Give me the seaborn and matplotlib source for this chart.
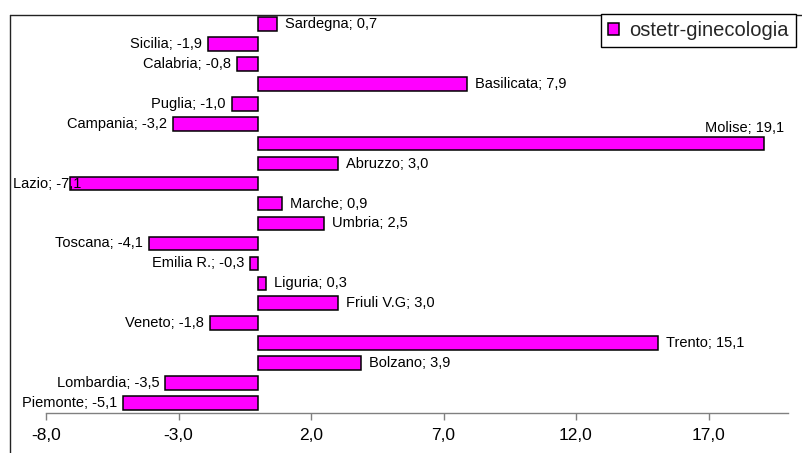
import matplotlib
matplotlib.use("Agg")
import matplotlib.pyplot as plt
from matplotlib.lines import Line2D
import seaborn as sns
import pandas as pd

# Regions listed top to bottom, with the percentage change for each
regions = ["Sardegna", "Sicilia", "Calabria", "Basilicata", "Puglia", "Campania",
           "Molise", "Abruzzo", "Lazio", "Marche", "Umbria", "Toscana",
           "Emilia R.", "Liguria", "Friuli V.G", "Veneto", "Trento", "Bolzano",
           "Lombardia", "Piemonte"]
values = [0.7, -1.9, -0.8, 7.9, -1.0, -3.2,
          19.1, 3.0, -7.1, 0.9, 2.5, -4.1,
          -0.3, 0.3, 3.0, -1.8, 15.1, 3.9,
          -3.5, -5.1]
series_name = "ostetr-ginecologia"
xticks = [-8, -3, 2, 7, 12, 17]

df = pd.DataFrame({"regione": regions, "valore": values})

sns.set_theme(style="white")
plt.rcParams["font.family"] = ["Liberation Sans", "DejaVu Sans"]

W, H = 802, 453
fig = plt.figure(figsize=(W / 100, H / 100), dpi=100)
ax = fig.add_axes([46 / W, 1 - 413 / H, (788 - 46) / W, (413 - 14) / H])

sns.barplot(data=df, x="valore", y="regione", orient="h", order=regions,
            color="#FF00FF", saturation=1, width=0.68, edgecolor="black",
            linewidth=1.1, label=series_name, ax=ax)

ax.set_xlim(-8, 20)
ax.set_ylim(len(regions) - 0.5, -0.5)
ax.set_xticks(xticks)
ax.set_xticklabels([f"{t:.1f}".replace(".", ",") for t in xticks], fontsize=12.5)
ax.set_yticks([])
ax.set_xlabel("")
ax.set_ylabel("")
for side in ("top", "right", "left"):
    ax.spines[side].set_visible(False)
ax.spines["bottom"].set_color("#808080")
ax.spines["bottom"].set_linewidth(1.0)
ax.tick_params(axis="x", direction="out", length=5, width=1, color="#808080",
               pad=6, labelcolor="black", bottom=True)


def fmt(v):
    return f"{v:.1f}".replace(".", ",")


# Value labels next to each bar
for i, (name, v) in enumerate(zip(regions, values)):
    text = f"{name}; {fmt(v)}"
    if name == "Molise":
        ax.annotate(text, (v, i), xytext=(20, 16), textcoords="offset pixels",
                    ha="right", va="center", fontsize=10.5, color="black",
                    annotation_clip=False, zorder=5)
    elif name == "Lazio":
        ax.annotate(text, (13, i), xycoords=("figure pixels", "data"),
                    ha="left", va="center", fontsize=10.5, color="black",
                    annotation_clip=False, zorder=5)
    elif v >= 0:
        ax.annotate(text, (v, i), xytext=(8, 0), textcoords="offset pixels",
                    ha="left", va="center", fontsize=10.5, color="black",
                    annotation_clip=False, zorder=5)
    else:
        ax.annotate(text, (v, i), xytext=(-6, 0), textcoords="offset pixels",
                    ha="right", va="center", fontsize=10.5, color="black",
                    annotation_clip=False, zorder=5)

# Legend
if ax.get_legend() is not None:
    ax.get_legend().remove()
handles, labels = ax.get_legend_handles_labels()
leg = fig.legend(handles[:1], labels[:1], loc="upper left",
                 bbox_to_anchor=(601 / W, 1 - 14 / H), fontsize=14.5,
                 frameon=True, fancybox=False, framealpha=1, edgecolor="black",
                 borderpad=0.35, borderaxespad=0, handlelength=0.55,
                 handleheight=0.55, handletextpad=0.5)
leg.get_frame().set_linewidth(1.0)

# Chart area border (left and top edges)
ytop = 1 - 14.5 / H
xl = 9.5 / W
fig.add_artist(Line2D([xl, xl], [0, ytop], color="#222222", lw=1.0))
fig.add_artist(Line2D([xl, 1], [ytop, ytop], color="#222222", lw=1.0))

fig.savefig("out.png", dpi=100)
